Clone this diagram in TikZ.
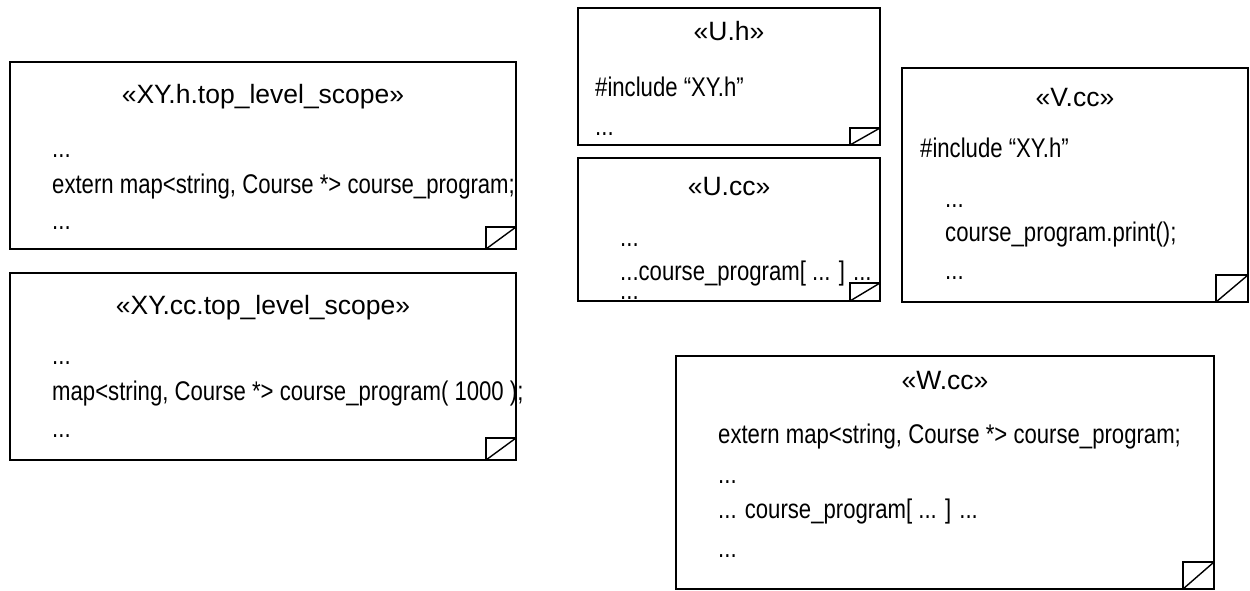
\documentclass[tikz,border=0pt]{standalone}
\usepackage{fontspec}
\setmainfont{Liberation Sans}
\newfontfamily\codefont[FakeStretch=0.82]{Liberation Sans}

% note box with a folded-corner mark: #1 node name, #2 mark width, #3 mark height
\newcommand\foldmark[3]{%
  \draw[notemark] ([xshift=-#2pt]#1.south east) rectangle ([yshift=#3pt]#1.south east);
  \draw[notemark] ([xshift=-#2pt]#1.south east) -- ([yshift=#3pt]#1.south east);
}

\begin{document}
\begin{tikzpicture}[x=1pt,y=-1pt,
  notebox/.style={draw=black, line width=1.4pt, anchor=north west, inner sep=0pt, outer sep=0pt},
  notemark/.style={draw=black, line width=1.4pt},
  title/.style={anchor=base, inner sep=0pt, font=\fontsize{26.5}{30}\selectfont},
  code/.style={anchor=base west, inner sep=0pt, font=\codefont\fontsize{27}{30}\selectfont}]

\useasboundingbox (0,0) rectangle (1250,590);

% --- XY.h top level scope
\node[notebox, minimum width=506pt, minimum height=187pt] (xyh) at (10,62) {};
\foldmark{xyh}{30}{22}
\node[title] (xyht) at (263,103) {«XY.h.top\_level\_scope»};
\node[code] (xyh1) at (52,157) {...};
\node[code] (xyh2) at (52,193) {extern map<string, Course *> course\_program;};
\node[code] (xyh3) at (52,229) {...};

% --- XY.cc top level scope
\node[notebox, minimum width=506pt, minimum height=187pt] (xycc) at (10,273) {};
\foldmark{xycc}{30}{22}
\node[title] (xycct) at (263,314) {«XY.cc.top\_level\_scope»};
\node[code] (xycc1) at (52,364) {...};
\node[code] (xycc2) at (52,400) {map<string, Course *> course\_program( 1000 );};
\node[code] (xycc3) at (52,437) {...};

% --- U.h
\node[notebox, minimum width=302pt, minimum height=137pt] (uh) at (578,8) {};
\foldmark{uh}{30}{17}
\node[title] (uht) at (729,40) {«U.h»};
\node[code] (uh1) at (595,96) {\#include “XY.h”};
\node[code] (uh2) at (595,135) {...};

% --- U.cc
\node[notebox, minimum width=302pt, minimum height=143pt] (ucc) at (578,158) {};
\foldmark{ucc}{30}{18}
\node[title] (ucct) at (729,195) {«U.cc»};
\node[code] (ucc1) at (620,246) {...};
\node[code] (ucc2) at (620,280) {...course\_program[ ... ] ...};
\node[code] (ucc3) at (620,299) {...};

% --- V.cc
\node[notebox, minimum width=346pt, minimum height=234pt] (vcc) at (902,68) {};
\foldmark{vcc}{32}{27}
\node[title] (vcct) at (1075,106) {«V.cc»};
\node[code] (vcc1) at (920,157) {\#include “XY.h”};
\node[code] (vcc2) at (945,207) {...};
\node[code] (vcc3) at (945,241) {course\_program.print();};
\node[code] (vcc4) at (945,279) {...};

% --- W.cc
\node[notebox, minimum width=538pt, minimum height=233pt] (wcc) at (676,356) {};
\foldmark{wcc}{31}{27}
\node[title] (wcct) at (945,389) {«W.cc»};
\node[code] (wcc1) at (718,443) {extern map<string, Course *> course\_program;};
\node[code] (wcc2) at (718,483) {...};
\node[code] (wcc3) at (718,518) {... course\_program[ ... ] ...};
\node[code] (wcc4) at (718,557) {...};

\end{tikzpicture}
\end{document}
